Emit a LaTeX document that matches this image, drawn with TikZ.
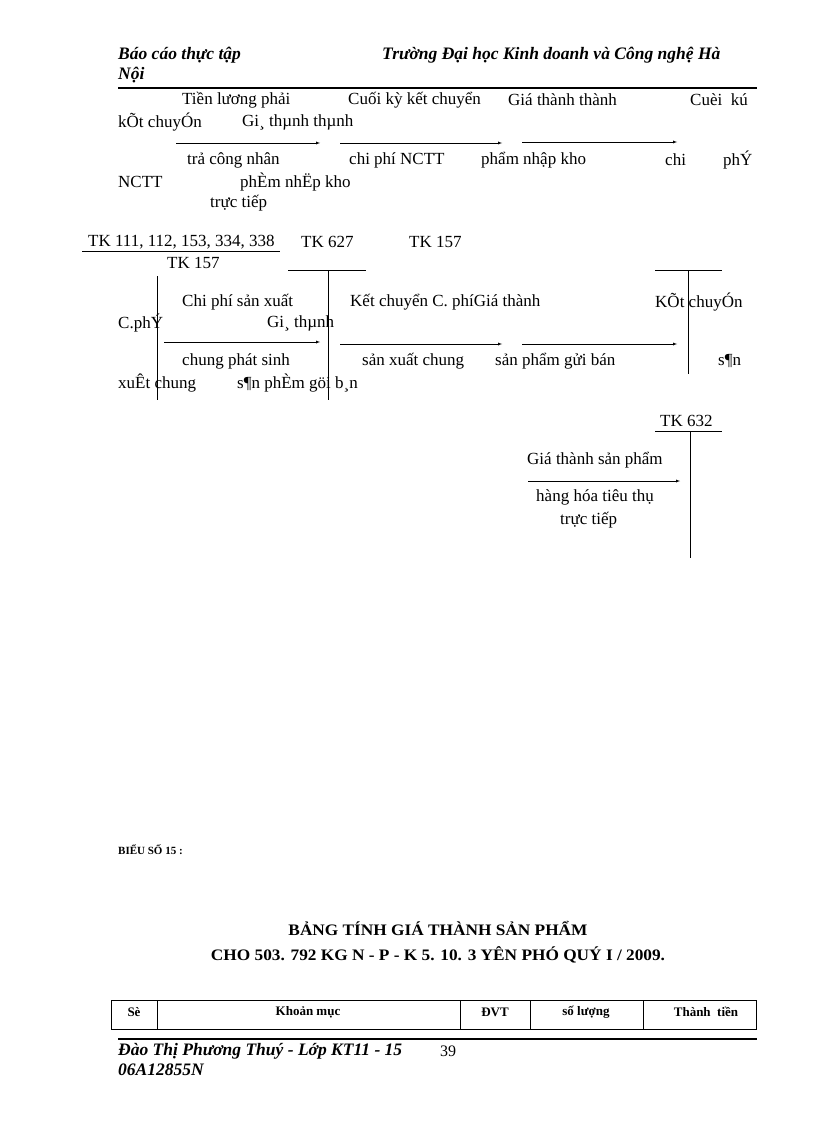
\documentclass[tikz,border=0pt]{standalone}
\usepackage{fontspec}
\setmainfont{Liberation Serif}
\begin{document}
\begin{tikzpicture}[x=1pt,y=-1pt,
 t/.style={anchor=west,inner sep=0,font=\fontsize{17}{19}\selectfont},
 s/.style={anchor=west,inner sep=0,font=\bfseries\fontsize{13}{15}\selectfont},
 h/.style={anchor=west,inner sep=0,font=\bfseries\itshape\fontsize{17.5}{19}\selectfont},
 ar/.style={-latex,thin},
 ln/.style={line width=0.6pt}]
\useasboundingbox[fill=white] (0,0) rectangle (816,1123);
% header
\node[h] (h1) at (118,55) {Báo cáo thực tập};
\node[h] (h2) at (382,55) {Trường Đại học Kinh doanh và Công nghệ Hà};
\node[h] (h3) at (118,75) {Nội};
\draw[line width=1.5pt] (118,88) -- (757,88);
% row 1
\node[t] at (182,100) {Tiền lương phải};
\node[t] at (348,100) {Cuối kỳ kết chuyển};
\node[t] at (508,100) {Giá thành thành};
\node[t] at (690,100) {Cuèi\ \ kú};
\node[t] at (118,122) {kÕt chuyÓn};
\node[t] at (242,122) {Gi¸ thµnh thµnh};
\coordinate (a1) at (176,143); \coordinate (a2) at (320,143);
\coordinate (b1) at (340,143); \coordinate (b2) at (502,143);
\coordinate (c1) at (522,142); \coordinate (c2) at (677,142);
\draw[ar] (a1) -- (a2); \draw[ar] (b1) -- (b2); \draw[ar] (c1) -- (c2);
\node[t] at (187,160) {trả công nhân};
\node[t] at (349,160) {chi phí NCTT};
\node[t] at (481,160) {phẩm nhập kho};
\node[t] at (665,160) {chi};
\node[t] at (723,160) {phÝ};
\node[t] at (118,182) {NCTT};
\node[t] at (240,182) {phÈm nhËp kho};
\node[t] at (210,203) {trực tiếp};
% row 2
\node[t] at (88,242) {TK 111, 112, 153, 334, 338};
\draw[ln] (82,251) -- (280,251);
\node[t] at (301,242) {TK 627};
\node[t] at (409,242) {TK 157};
\node[t] at (167,263) {TK 157};
\draw[ln] (288,270) -- (366,270);
\draw[ln] (328,270) -- (328,400);
\draw[ln] (655,270) -- (722,270);
\draw[ln] (688,270) -- (688,374);
\draw[ln] (157,276) -- (157,400);
\node[t] at (182,302) {Chi phí sản xuất};
\node[t] at (350,302) {Kết chuyển C. phíGiá thành};
\node[t] at (655,302) {KÕt chuyÓn};
\node[t] at (118,323) {C.phÝ};
\node[t] at (267,323) {Gi¸ thµnh};
\coordinate (d1) at (164,342); \coordinate (d2) at (320,342);
\coordinate (e1) at (340,344); \coordinate (e2) at (502,344);
\coordinate (f1) at (522,344); \coordinate (f2) at (677,344);
\draw[ar] (d1) -- (d2); \draw[ar] (e1) -- (e2); \draw[ar] (f1) -- (f2);
\node[t] at (182,361) {chung phát sinh};
\node[t] at (362,361) {sản xuất chung};
\node[t] at (495,361) {sản phẩm gửi bán};
\node[t] at (718,361) {s¶n};
\node[t] at (118,383) {xuÊt chung};
\node[t] at (237,383) {s¶n phÈm göi b¸n};
% TK 632
\node[t] at (660,421) {TK 632};
\draw[ln] (655,431) -- (722,431);
\draw[ln] (690,431) -- (690,558);
\node[t] at (527,460) {Giá thành sản phẩm};
\coordinate (g1) at (528,481); \coordinate (g2) at (680,481);
\draw[ar] (g1) -- (g2);
\node[t] at (536,497) {hàng hóa tiêu thụ};
\node[t] at (560,520) {trực tiếp};
% bottom
\node[s,font=\bfseries\fontsize{11}{13}\selectfont] at (118,850) {BIỂU SỐ 15 :};
\node[s,anchor=center,font=\bfseries\fontsize{16}{18}\selectfont] at (438,928) {\scalebox{1.08}[1]{BẢNG TÍNH GIÁ THÀNH SẢN PHẨM}};
\node[s,anchor=center,font=\bfseries\fontsize{16}{18}\selectfont] at (438,955) {\scalebox{1.08}[1]{CHO 503. 792 KG N - P - K 5. 10. 3 YÊN PHÓ QUÝ I / 2009.}};
\draw[ln] (111,1000) rectangle (756,1029);
\foreach \x in {157,460,530,643} \draw[ln] (\x,1000) -- (\x,1029);
\node[s,anchor=center] at (134,1012) {Sè};
\node[s,anchor=center] at (308,1012) {Khoản mục};
\node[s,anchor=center] at (495,1012) {ĐVT};
\node[s,anchor=center] at (586,1012) {số lượng};
\node[s,anchor=center] at (706,1012) {Thành\ \ tiền};
\draw[line width=1.5pt] (118,1039) -- (757,1039);
\node[h] at (118,1051) {Đào Thị Phương Thuý - Lớp KT11 - 15};
\node[t,font=\fontsize{16}{18}\selectfont] at (440,1051) {39};
\node[h] at (118,1070) {06A12855N};
\end{tikzpicture}
\end{document}
